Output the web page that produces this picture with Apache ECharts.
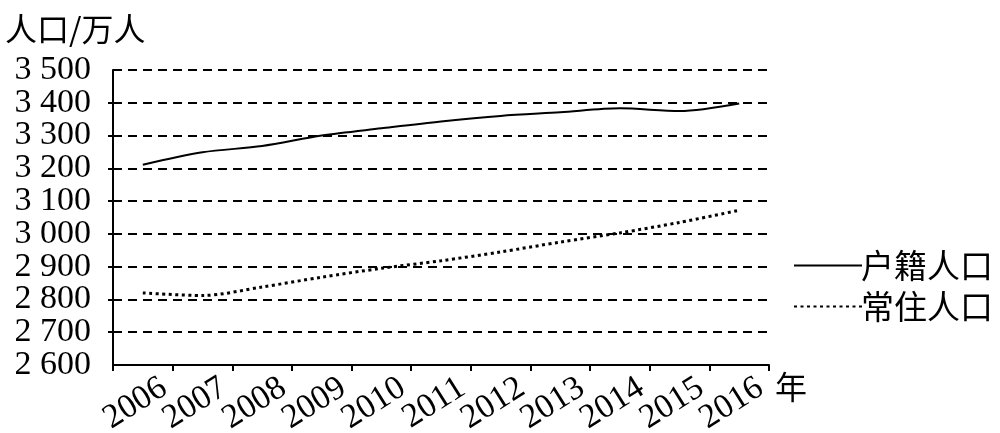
<!DOCTYPE html>
<html>
<head>
<meta charset="utf-8">
<script src="https://cdn.jsdelivr.net/npm/echarts@6/dist/echarts.min.js"></script>
<style>
html,body{margin:0;padding:0;background:#fff;}
#main{width:1000px;height:433px;}
</style>
</head>
<body>
<div id="main"></div>
<script>
// ---- data ----
var years = ['2006','2007','2008','2009','2010','2011','2012','2013','2014','2015','2016'];
var tickLabels = ['', '2006','2007','2008','2009','2010','2011','2012','2013','2014','2015','2016'];
var huji = [3211, 3249, 3268, 3300, 3322, 3343, 3360, 3371, 3383, 3375, 3398];
var changzhu = [2820, 2812, 2838, 2868, 2895, 2918, 2945, 2975, 3003, 3035, 3072];
var seriesNames = ['户籍人口', '常住人口'];
var yTitle = '人口/万人';
var xUnit = '年';
var yMin = 2600, yMax = 3500, yStep = 100;

var serif = '"Liberation Serif", "DejaVu Serif", serif';
var cjk = '"Noto Sans CJK SC", sans-serif';

function fmtNum(v) {
  var s = String(v);
  if (s.length > 3) return s.slice(0, s.length - 3) + ' ' + s.slice(s.length - 3);
  return s;
}
var yLabelStyle = {
  margin: 22,
  fontFamily: serif,
  fontSize: 34,
  color: '#000'
};

var chart = echarts.init(document.getElementById('main'), null, {renderer: 'canvas'});
chart.setOption({
  backgroundColor: '#fff',
  animation: false,
  title: {
    text: yTitle,
    left: 0,
    top: 8,
    textStyle: {fontFamily: cjk, fontSize: 32, fontWeight: 'normal', color: '#000'}
  },
  legend: {
    orient: 'vertical',
    left: 788,
    top: 244,
    itemWidth: 68,
    itemHeight: 14,
    itemGap: 8,
    data: seriesNames,
    itemStyle: {opacity: 0},
    textStyle: {fontFamily: cjk, fontSize: 33, color: '#000', padding: [0, 0, 0, -6]}
  },
  grid: {left: 113, right: 231, top: 70, bottom: 68, containLabel: false, outerBoundsMode: 'none'},
  xAxis: [
    {
      type: 'category',
      data: years,
      boundaryGap: true,
      position: 'bottom',
      axisLine: {show: true, lineStyle: {color: '#000', width: 2}},
      axisTick: {show: true, length: 6, lineStyle: {color: '#000', width: 2}},
      axisLabel: {show: false},
      splitLine: {show: false},
      name: xUnit,
      nameLocation: 'end',
      nameGap: 6,
      nameTextStyle: {fontFamily: cjk, fontSize: 32, color: '#000', verticalAlign: 'top', padding: [6, 0, 0, 0]}
    },
    {
      type: 'category',
      data: tickLabels,
      boundaryGap: false,
      position: 'bottom',
      axisLine: {show: false},
      axisTick: {show: false},
      splitLine: {show: false},
      axisLabel: {
        show: true,
        interval: 0,
        rotate: 32,
        margin: 15,
        padding: [0, 10, 0, 0],
        lineHeight: 26,
        fontFamily: serif,
        fontSize: 34,
        color: '#000'
      }
    }
  ],
  yAxis: [
    {
      type: 'value',
      min: yMin,
      max: yMax,
      interval: yStep,
      position: 'left',
      axisLine: {show: true, lineStyle: {color: '#000', width: 2}},
      axisTick: {show: true, length: 5, lineStyle: {color: '#000', width: 2}},
      axisLabel: Object.assign({}, yLabelStyle, {
        showMinLabel: false,
        showMaxLabel: false,
        formatter: fmtNum
      }),
      splitLine: {show: true, lineStyle: {color: '#000', width: 2, type: [9, 6]}}
    },
    {
      type: 'value',
      min: yMin,
      max: yMax,
      interval: yStep,
      position: 'left',
      offset: 0,
      axisLine: {show: false},
      axisTick: {show: false},
      splitLine: {show: false},
      axisLabel: Object.assign({}, yLabelStyle, {
        showMinLabel: true,
        showMaxLabel: true,
        formatter: function (v) { return (v === yMin || v === yMax) ? fmtNum(v) : ''; }
      })
    }
  ],
  series: [
    {
      name: seriesNames[0],
      type: 'line',
      xAxisIndex: 0,
      yAxisIndex: 0,
      data: huji,
      smooth: 0.3,
      symbol: 'none',
      lineStyle: {color: '#000', width: 2, type: 'solid'},
      itemStyle: {color: '#000'}
    },
    {
      name: seriesNames[1],
      type: 'line',
      xAxisIndex: 0,
      yAxisIndex: 0,
      data: changzhu,
      smooth: 0.3,
      symbol: 'none',
      lineStyle: {color: '#000', width: 3, type: [3, 3.5]},
      itemStyle: {color: '#000'}
    }
  ]
});
</script>
</body>
</html>
